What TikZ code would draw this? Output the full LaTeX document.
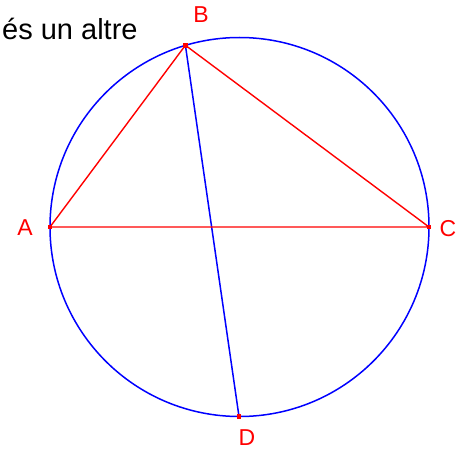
\documentclass[tikz,border=0pt]{standalone}
\usepackage{fontspec}
\setmainfont{Liberation Sans}
\begin{document}
\begin{tikzpicture}[x=1pt,y=-1pt,
  circ/.style={draw=blue, line width=1.5pt},
  seg/.style={draw=red, line width=1.4pt},
  bseg/.style={draw=blue, line width=1.5pt},
  pt/.style={fill=red, inner sep=0pt, minimum size=4.5pt, rectangle},
  lbl/.style={text=red, font=\fontsize{23}{26}\selectfont, inner sep=0pt}]
\useasboundingbox (0,0) rectangle (468,452);
\coordinate (O) at (239.5,227);
\coordinate (A) at (50,227);
\coordinate (C) at (429,227);
\coordinate (B) at (185.4,45.3);
\coordinate (D) at (239,416.5);
\draw[circ] (O) circle[radius=189.5];
\draw[bseg] (B) -- (D);
\draw[seg] (A) -- (B) -- (C) -- cycle;
\node[pt] (pA) at (A) {};
\node[pt] (pB) at (B) {};
\node[pt] (pC) at (C) {};
\node[pt] (pD) at (D) {};
\node[lbl] (lA) at (25,228) {A};
\node[lbl] (lB) at (201,15) {B};
\node[lbl] (lC) at (448,229) {C};
\node[lbl] (lD) at (247,438) {D};
\node[anchor=base west, inner sep=0pt, font=\fontsize{29}{32}\selectfont] (txt) at (2,40) {és un altre};
\end{tikzpicture}
\end{document}
